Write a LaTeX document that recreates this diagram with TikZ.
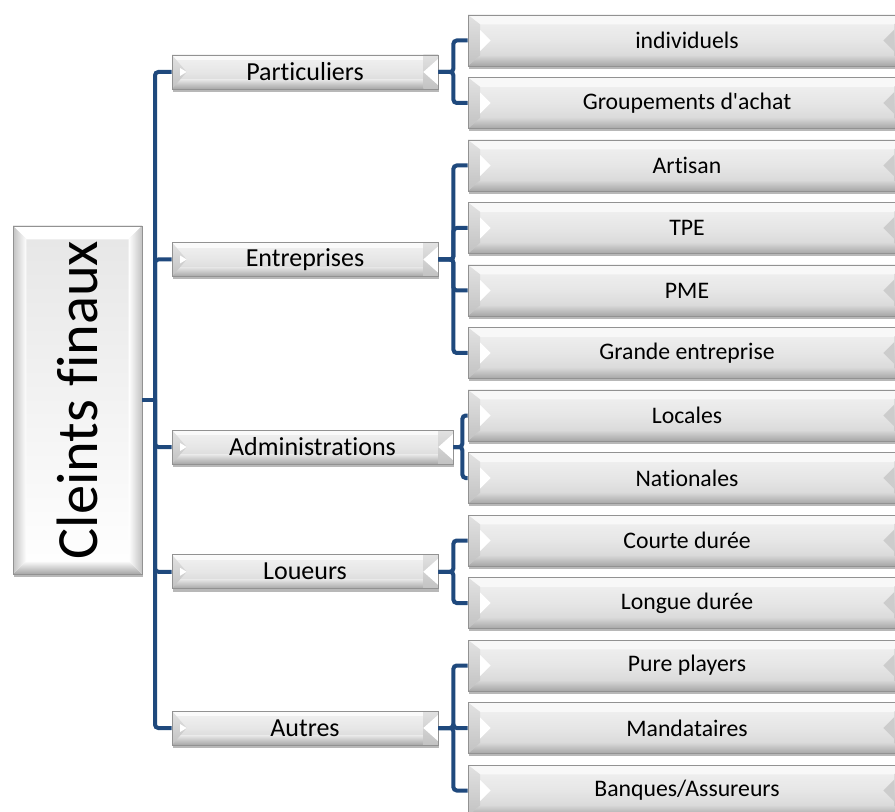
\documentclass[tikz,border=0pt]{standalone}
\usepackage{fontspec}
\setmainfont{Carlito}[Ligatures={NoCommon,NoDiscretionary}]
\usetikzlibrary{calc,shadows}
\definecolor{connc}{HTML}{1F497D}
\definecolor{bord}{HTML}{929292}
\definecolor{mainA}{HTML}{F2F2F2}
\definecolor{mainM}{HTML}{E6E6E6}
\definecolor{mainB}{HTML}{D2D2D2}
\definecolor{topf}{HTML}{F8F8F8}
\definecolor{botA}{HTML}{D8D8D8}
\definecolor{botB}{HTML}{A6A6A6}
\definecolor{sideA}{HTML}{E2E2E2}
\definecolor{sideB}{HTML}{C2C2C2}
\definecolor{rtri}{HTML}{CCCCCC}

\newcommand\corners{%
  \coordinate (nw) at (path picture bounding box.north west);
  \coordinate (ne) at (path picture bounding box.north east);
  \coordinate (sw) at (path picture bounding box.south west);
  \coordinate (se) at (path picture bounding box.south east);
  \coordinate (ww) at (path picture bounding box.west);
  \coordinate (ee) at (path picture bounding box.east);}

\newcommand\LtwoBevel{%
  \corners
  \fill[topf] (nw) -- (ne) -- ($(ne)+(-9pt,-7pt)$) -- ($(nw)+(9pt,-7pt)$) -- cycle;
  \shade[top color=botA, bottom color=botB] (sw) -- (se) -- ($(se)+(-9pt,8pt)$) -- ($(sw)+(9pt,8pt)$) -- cycle;
  \shade[top color=sideA, bottom color=sideB] (nw) -- ($(nw)+(9pt,-7pt)$) -- ($(sw)+(9pt,8pt)$) -- (sw) -- cycle;
  \fill[white] ($(ww)+(9pt,8pt)$) -- ($(ww)+(17pt,0pt)$) -- ($(ww)+(9pt,-8pt)$) -- cycle;
  \shade[top color=sideA, bottom color=sideB] (ne) -- ($(ne)+(-9pt,-7pt)$) -- ($(se)+(-9pt,8pt)$) -- (se) -- cycle;
  \fill[rtri] ($(ee)+(-9pt,8pt)$) -- ($(ee)+(-17pt,0pt)$) -- ($(ee)+(-9pt,-8pt)$) -- cycle;}

\newcommand\LoneBevel{%
  \corners
  \fill[white, opacity=0.7] (nw) rectangle ($(ne)+(0,-4pt)$);
  \shade[top color=mainM, bottom color=botB] ($(sw)+(0,7pt)$) rectangle (se);
  \shade[top color=sideA, bottom color=sideB] (nw) -- ($(ww)+(11pt,0)$) -- (sw) -- cycle;
  \fill[white] ($(ww)+(6pt,3pt)$) -- ($(ww)+(11pt,0pt)$) -- ($(ww)+(6pt,-3pt)$) -- cycle;
  \shade[top color=sideA, bottom color=sideB] ($(ne)+(-11pt,0)$) rectangle (se);
  \fill[white] ($(ne)+(0,-3pt)$) -- ($(ee)+(-11pt,0pt)$) -- ($(se)+(0,3pt)$) -- cycle;}

\newcommand\RootBevel{%
  \corners
  \fill[white] (nw) -- (ne) -- ($(ne)+(-10pt,-10pt)$) -- ($(nw)+(10pt,-10pt)$) -- cycle;
  \shade[top color=white, bottom color=botB] (sw) -- (se) -- ($(se)+(-10pt,10pt)$) -- ($(sw)+(10pt,10pt)$) -- cycle;
  \shade[left color=sideB, right color=white] (nw) -- ($(nw)+(10pt,-10pt)$) -- ($(sw)+(10pt,10pt)$) -- (sw) -- cycle;
  \shade[left color=white, right color=sideB] (ne) -- ($(ne)+(-10pt,-10pt)$) -- ($(se)+(-10pt,10pt)$) -- (se) -- cycle;}

\tikzset{
  conn/.style={draw=connc, line width=3pt, rounded corners=2.5pt},
  boxbase/.style={draw=bord, line width=0.6pt, inner sep=0pt, text=black,
    drop shadow={shadow xshift=1pt, shadow yshift=-2.2pt, opacity=0.28, fill=black}},
  lone/.style={boxbase, minimum width=199.5pt, minimum height=25.5pt,
    top color=mainA, bottom color=mainB, middle color=mainM,
    font=\fontsize{19.5}{22}\selectfont, path picture={\LoneBevel}},
  ltwo/.style={boxbase, minimum width=328.5pt, minimum height=38.25pt,
    top color=mainA, bottom color=mainB, middle color=mainM,
    font=\fontsize{17.8}{20}\selectfont, path picture={\LtwoBevel}},
  rootbox/.style={boxbase, minimum width=96.75pt, minimum height=261pt,
    top color=mainM, bottom color=white,
    font=\fontsize{43.8}{48}\selectfont, path picture={\RootBevel}}
}

\begin{document}
\begin{tikzpicture}[x=0.75pt, y=-0.75pt]
\useasboundingbox[fill=white] (0,0) rectangle (895,812);

% root
\node[rootbox] (root) at (77.5,400) {\rotatebox{90}{Cleints f\kern0pt inaux}};

% level 1
\node[lone] (par) at (305,72) {Particuliers};
\node[lone] (ent) at (305,259.5) {Entreprises};
\node[lone, minimum width=210.75pt] (adm) at (312.5,447) {Administra\kern0pt tions};
\node[lone] (lou) at (305,571.75) {Loueurs};
\node[lone] (aut) at (305,728) {Autres};

% level 2
\node[ltwo] (ind) at (687,40.5) {individuels};
\node[ltwo] (grp) at (687,103) {Groupements d\textquotesingle achat};
\node[ltwo] (art) at (687,165.5) {Artisan};
\node[ltwo] (tpe) at (687,228) {TPE};
\node[ltwo] (pme) at (687,290.5) {PME};
\node[ltwo] (gre) at (687,353) {Grande entreprise};
\node[ltwo] (loc) at (687,415.5) {Locales};
\node[ltwo] (nat) at (687,478) {Nationales};
\node[ltwo] (cou) at (687,540.5) {Courte durée};
\node[ltwo] (lon) at (687,603) {Longue durée};
\node[ltwo] (pur) at (687,665.5) {Pure players};
\node[ltwo] (man) at (687,728) {Mandataires};
\node[ltwo] (ban) at (687,790.5) {Banques/Assureurs};

% connectors
\coordinate (trunk) at (155,400);
\draw[conn] (root.east) -- (trunk);
\foreach \c in {par,ent,adm,lou,aut}
  \draw[conn] (trunk) |- (\c.west);

\foreach \c in {ind,grp} \draw[conn] (par.east) -- ++(15,0) |- (\c.west);
\foreach \c in {art,tpe,pme,gre} \draw[conn] (ent.east) -- ++(15,0) |- (\c.west);
\foreach \c in {loc,nat} \draw[conn] (adm.east) -- ++(9,0) |- (\c.west);
\foreach \c in {cou,lon} \draw[conn] (lou.east) -- ++(15,0) |- (\c.west);
\foreach \c in {pur,man,ban} \draw[conn] (aut.east) -- ++(15,0) |- (\c.west);
\end{tikzpicture}
\end{document}
